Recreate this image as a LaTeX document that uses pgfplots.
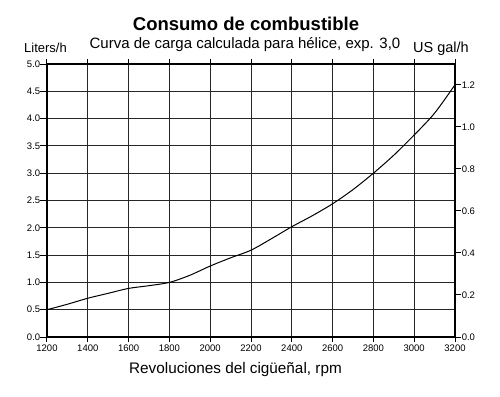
\documentclass[border=0pt]{standalone}
\usepackage{fontspec}
\setmainfont{Liberation Sans}
\usepackage{pgfplots}
\pgfplotsset{compat=1.18}
\begin{document}
\begin{tikzpicture}
\begin{axis}[name=main, scale only axis, width=408pt, height=273pt,
  xmin=1200, xmax=3200, ymin=0, ymax=5,
  xtick={1200,1400,...,3200}, ytick={0,0.5,...,5},
  grid=major, grid style={black!85, line width=1pt},
  axis line style={line width=1.2pt},
  tick align=outside,
  ytick pos=left,
  xtick style={black, line width=1pt, /pgfplots/major tick length=5pt},
  ytick style={black, line width=1pt, /pgfplots/major tick length=7pt},
  /pgf/number format/assume math mode=true,
  ticklabel style={font=\fontsize{9.5}{11}\selectfont},
  yticklabel style={/pgf/number format/fixed, /pgf/number format/precision=1, /pgf/number format/fixed zerofill, xshift=1pt},
  xticklabel style={/pgf/number format/set thousands separator={}},
  clip=false]
\addplot[black, line width=1pt, smooth] coordinates {
(1200,0.50) (1300,0.60) (1400,0.71) (1500,0.80) (1600,0.89) (1700,0.94)
(1800,1.00) (1900,1.13) (2000,1.30) (2100,1.45) (2200,1.59) (2300,1.80)
(2400,2.02) (2500,2.22) (2600,2.44) (2700,2.70) (2800,3.00) (2900,3.33)
(3000,3.70) (3100,4.10) (3200,4.62)};
\draw[line width=2pt] (rel axis cs:0,0) -- (rel axis cs:0,1);
\end{axis}
\begin{axis}[scale only axis, width=408pt, height=273pt,
  xmin=1200, xmax=3200, ymin=0, ymax=1.30,
  axis x line=none, axis y line*=right,
  axis line style={line width=1.2pt, -},
  ytick={0,0.2,...,1.2},
  tick align=outside,
  ytick style={black, line width=1pt, /pgfplots/major tick length=6pt},
  /pgf/number format/assume math mode=true,
  ticklabel style={font=\fontsize{9.5}{11}\selectfont},
  yticklabel style={/pgf/number format/fixed, /pgf/number format/precision=1, /pgf/number format/fixed zerofill, xshift=-1pt}]
\addplot[draw=none] coordinates {(1200,0) (3200,1.3)};
\end{axis}
\node[anchor=base, font=\fontsize{18.5}{22}\selectfont\bfseries] at ([xshift=-5pt,yshift=33pt]main.north) {Consumo de combustible};
\node[anchor=base, font=\fontsize{15}{18}\selectfont] at ([xshift=-6pt,yshift=16pt]main.north) {Curva de carga calculada para hélice, exp. 3,0};
\node[anchor=base west, inner sep=0pt, font=\fontsize{13}{15}\selectfont] at ([xshift=-23pt,yshift=12pt]main.north west) {Liters/h};
\node[anchor=base west, inner sep=0pt, font=\fontsize{14.5}{17}\selectfont] at ([xshift=-42pt,yshift=12pt]main.north east) {US gal/h};
\node[anchor=base, font=\fontsize{15.3}{18}\selectfont] at ([xshift=-15.5pt,yshift=-36pt]main.south) {Revoluciones del cigüeñal, rpm};
\pgfresetboundingbox
\path ([xshift=-47pt,yshift=-59pt]main.south west) rectangle ([xshift=45pt,yshift=64pt]main.north east);
\end{tikzpicture}
\end{document}
